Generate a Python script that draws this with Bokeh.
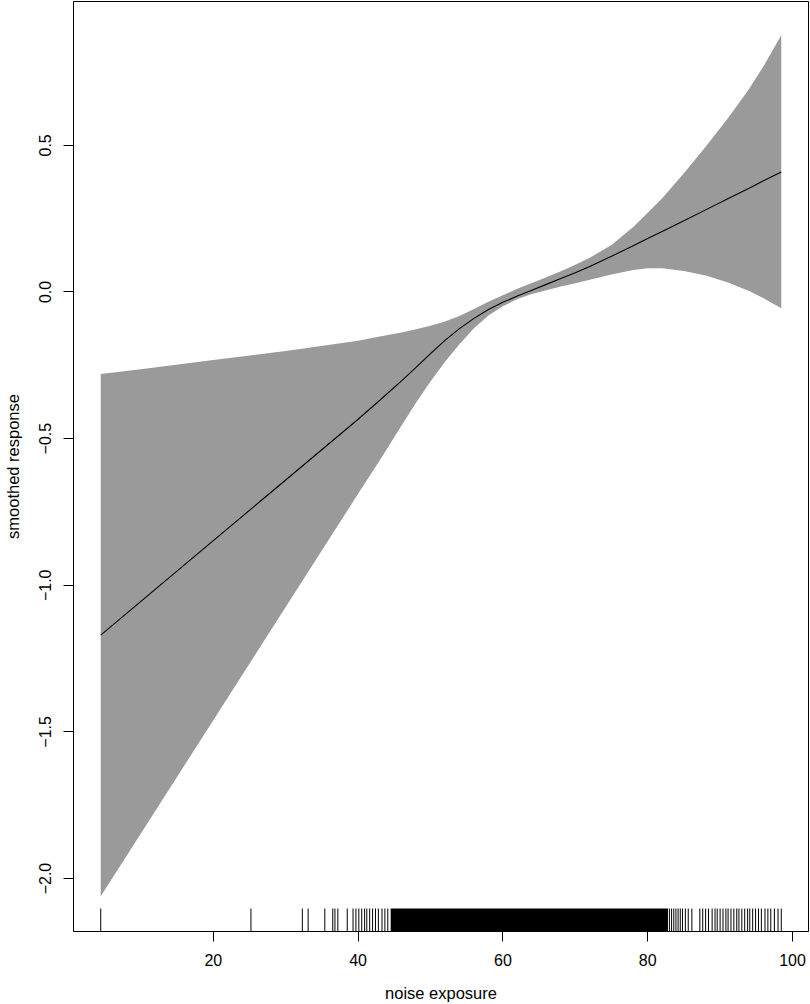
from bokeh.plotting import figure
from bokeh.models import Range1d, FixedTicker
from bokeh.embed import file_html
from bokeh.resources import INLINE

# ---- data ----
x_grid = [4.45, 10, 20, 30, 40, 43, 46, 48, 50, 52, 54, 56, 58, 60, 62, 64, 66, 68,
          70, 72, 75, 78, 80, 82, 85, 88, 91, 94, 96, 98.45]
fit = [-1.170, -1.055, -0.848, -0.641, -0.434, -0.369, -0.303, -0.257, -0.210, -0.165,
       -0.125, -0.090, -0.060, -0.035, -0.014, 0.006, 0.026, 0.046, 0.066, 0.087,
       0.122, 0.158, 0.182, 0.206, 0.243, 0.280, 0.317, 0.354, 0.379, 0.409]
upper = [-0.280, -0.263, -0.232, -0.201, -0.166, -0.152, -0.138, -0.127, -0.115, -0.101,
         -0.082, -0.058, -0.033, -0.011, 0.011, 0.031, 0.050, 0.071, 0.093, 0.117,
         0.160, 0.222, 0.270, 0.320, 0.405, 0.495, 0.590, 0.692, 0.770, 0.875]
lower = [-2.060, -1.846, -1.460, -1.074, -0.688, -0.574, -0.455, -0.378, -0.305, -0.238,
         -0.178, -0.124, -0.080, -0.049, -0.024, -0.007, 0.006, 0.019, 0.030, 0.042,
         0.060, 0.075, 0.081, 0.081, 0.072, 0.056, 0.033, 0.003, -0.021, -0.055]

rug_x = [4.45, 25.2, 32.3, 33.1, 35.4, 36.5, 36.8, 37.2, 38.5, 39.3, 39.7, 40.1, 40.5,
         40.9, 41.2, 41.6, 42.0, 42.4, 42.8, 43.3, 43.7, 44.1,
         83.0, 83.3, 83.6, 83.9, 84.2, 84.5, 84.8, 85.2, 85.6, 86.1,
         87.2, 87.6, 88.0, 88.4, 88.9, 89.3, 89.6, 90.0, 90.4, 90.8, 91.1, 91.5, 91.9,
         92.3, 92.6, 93.0, 93.4, 93.8, 94.1, 94.5, 94.9, 95.3, 95.7, 96.2, 96.6, 97.0,
         97.5, 98.0, 98.45]
rug_dense = (44.5, 82.8)   # span where observations are so dense the rug is solid

x_ticks = [20, 40, 60, 80, 100]
y_ticks = [-2.0, -1.5, -1.0, -0.5, 0.0, 0.5]
y_tick_labels = ["\u22122.0", "\u22121.5", "\u22121.0", "\u22120.5", "0.0", "0.5"]

# ---- figure ----
x_lo, x_hi = 0.69, 102.21
y_lo, y_hi = -2.1805, 0.9905

p = figure(width=810, height=1004, output_backend="svg", toolbar_location=None,
           x_range=Range1d(x_lo, x_hi), y_range=Range1d(y_lo, y_hi),
           min_border_left=72, min_border_right=2, min_border_top=1, min_border_bottom=72)
p.background_fill_color = "white"
p.border_fill_color = "white"
p.outline_line_color = "black"
p.outline_line_width = 1
p.xgrid.visible = False
p.ygrid.visible = False

# band
band_x = x_grid + x_grid[::-1]
band_y = upper + lower[::-1]
p.patch(band_x, band_y, fill_color="#9a9a9a", line_color=None)

# fitted line
p.line(x_grid, fit, line_color="black", line_width=1.1)

# rug
rug_h = 23 / 293.6
p.segment(x0=rug_x, y0=[y_lo] * len(rug_x), x1=rug_x, y1=[y_lo + rug_h] * len(rug_x),
          line_color="black", line_width=1)
p.quad(left=[rug_dense[0]], right=[rug_dense[1]], bottom=[y_lo], top=[y_lo + rug_h],
       fill_color="black", line_color=None)

font = "Liberation Sans"
for ax in (p.xaxis[0], p.yaxis[0]):
    ax.axis_line_color = None
    ax.major_tick_out = 10
    ax.major_tick_in = 0
    ax.minor_tick_line_color = None
    ax.major_tick_line_color = "black"
    ax.major_tick_line_width = 1
    ax.major_label_text_font = font
    ax.major_label_text_font_size = "16px"
    ax.major_label_text_color = "black"
    ax.major_label_standoff = 12
    ax.axis_label_text_font = font
    ax.axis_label_text_font_size = "16.5px"
    ax.axis_label_text_font_style = "normal"
    ax.axis_label_text_color = "black"

p.xaxis[0].ticker = FixedTicker(ticks=x_ticks)
p.yaxis[0].ticker = FixedTicker(ticks=y_ticks)
p.yaxis[0].major_label_overrides = {t: l for t, l in zip(y_ticks, y_tick_labels)}
p.yaxis[0].major_label_orientation = "vertical"
p.xaxis[0].axis_label = "noise exposure"
p.yaxis[0].axis_label = "smoothed response"
p.xaxis[0].axis_label_standoff = 15
p.yaxis[0].axis_label_standoff = 15

open("out.html", "w").write(file_html(p, INLINE))
